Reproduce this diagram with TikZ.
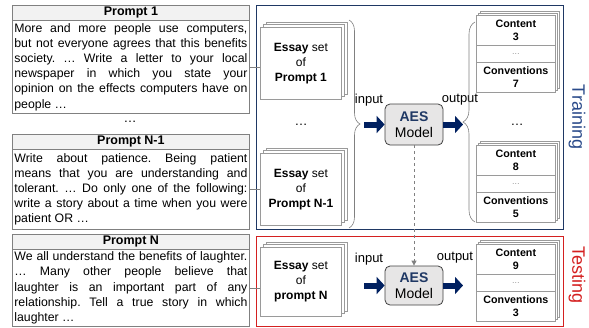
\documentclass[tikz,border=0pt]{standalone}
\usepackage{fontspec}
\setmainfont{Liberation Sans}
\usetikzlibrary{arrows.meta,decorations.pathreplacing,calc}
\definecolor{navyc}{HTML}{002060}
\definecolor{trainc}{HTML}{1F3864}
\definecolor{traintxt}{HTML}{2A4A8A}
\definecolor{testc}{HTML}{D42020}
\definecolor{boxgray}{HTML}{808080}
\definecolor{headfill}{HTML}{F2F2F2}
\definecolor{aesfill}{HTML}{E7E6E6}
\definecolor{aestxt}{HTML}{1F3864}
\definecolor{sheetgray}{HTML}{9A9A9A}
\hbadness=10000
\frenchspacing
\begin{document}
\begin{tikzpicture}[x=1pt,y=-1pt,
  phead/.style={draw=boxgray,fill=headfill,line width=0.8pt,anchor=north west,minimum width=237pt,minimum height=15pt,inner sep=0pt,font=\fontsize{12.5}{14}\selectfont\bfseries},
  pbody/.style={draw=boxgray,line width=0.8pt,anchor=north west,text width=233pt,inner xsep=2pt,inner ysep=2pt,align=justify,font=\fontsize{12.3}{15.2}\selectfont\frenchspacing},
  sheet/.style={draw=sheetgray,fill=white,line width=0.7pt},
  essay/.style={sheet,anchor=north west,minimum width=81pt,inner sep=0pt,align=center,font=\fontsize{12}{15}\selectfont},
  cell/.style={sheet,anchor=north west,minimum width=79pt,inner sep=0pt,align=center,font=\fontsize{10.7}{12.5}\selectfont\bfseries},
  dcell/.style={cell,minimum height=17pt,font=\fontsize{8}{9}\selectfont,text=gray},
  aes/.style={draw=black!75,fill=aesfill,line width=0.8pt,rounded corners=5pt,minimum width=58pt,inner sep=0pt,align=center,font=\fontsize{14}{16.5}\selectfont},
  bigarrow/.style={navyc,line width=6pt,-{Triangle[width=17pt,length=8pt]}},
  conn/.style={draw=boxgray,line width=0.6pt},
  bracec/.style={draw=gray,line width=0.6pt,decorate},
  lbl/.style={font=\fontsize{13}{15}\selectfont},
  dots/.style={font=\fontsize{13}{15}\selectfont}
]
\useasboundingbox (0,0) rectangle (589,327);

% frames
\node[draw=trainc,line width=1pt,anchor=north west,minimum width=307pt,minimum height=224pt,inner sep=0pt] (train) at (256,5) {};
\node[draw=testc,line width=1pt,anchor=north west,minimum width=307pt,minimum height=90pt,inner sep=0pt] (test) at (256,236) {};
\node[rotate=-90,text=traintxt,font=\fontsize{18}{20}\selectfont] (trainlbl) at (577,117) {Training};
\node[rotate=-90,text=testc,font=\fontsize{18}{20}\selectfont] (testlbl) at (577,275) {Testing};

% prompt boxes
\node[phead] (p1h) at (12,5) {Prompt 1};
\node[pbody,minimum height=93pt] (p1b) at (12,20) {More and more people use computers,\linebreak but not everyone agrees that this benefits\linebreak society. … Write a letter to your local\linebreak newspaper in which you state your\linebreak opinion on the effects computers have on\linebreak people …};
\node[dots] (pdots) at (130,122) {…};
\node[phead] (p2h) at (12,134) {Prompt N-1};
\node[pbody,minimum height=80pt] (p2b) at (12,149) {Write about patience. Being patient\linebreak means that you are understanding and\linebreak tolerant. … Do only one of the following:\linebreak write a story about a time when you were\linebreak patient OR …};
\node[phead] (p3h) at (12,234) {Prompt N};
\node[pbody,minimum height=77pt] (p3b) at (12,249) {We all understand the benefits of laughter.\linebreak … Many other people believe that\linebreak laughter is an important part of any\linebreak relationship. Tell a true story in which\linebreak laughter …};

% essay stacks
\draw[sheet] (266.6,22) rectangle +(81,72);
\draw[sheet] (263.3,24.5) rectangle +(81,72);
\node[essay,minimum height=72pt] (e1) at (260,27) {{\bfseries Essay} set\\of\\{\bfseries Prompt 1}};
\node[dots] (edots) at (301,125) {…};
\draw[sheet] (266.6,148) rectangle +(81,72);
\draw[sheet] (263.3,150.5) rectangle +(81,72);
\node[essay,minimum height=72pt] (e2) at (260,153) {{\bfseries Essay} set\\of\\{\bfseries Prompt N-1}};
\draw[sheet] (266.6,242) rectangle +(81,69);
\draw[sheet] (263.3,244.5) rectangle +(81,69);
\node[essay,minimum height=69pt] (e3) at (260,247) {{\bfseries Essay} set\\of\\{\bfseries prompt N}};

% prompt -> essay connectors
\draw[conn] (p1b.east) -- (e1.west |- p1b.east);
\draw[conn] (p2b.east) -- (e2.west |- p2b.east);
\draw[conn] (p3b.east) -- (e3.west |- p3b.east);

% input brace
\draw[bracec,decoration={brace,amplitude=11pt}] (349,20) -- (349,228);

% AES models
\node[aes,minimum height=41pt] (m1) at (414,124.5) {\textcolor{aestxt}{\bfseries AES}\\Model};
\node[aes,minimum height=39pt] (m2) at (414,285.5) {\textcolor{aestxt}{\bfseries AES}\\Model};
\draw[gray,dashed,line width=0.8pt,-{Triangle[width=5pt,length=5pt]}] (m1.south) -- (m2.north);

\coordinate (in1) at (364,124.5);
\coordinate (out1) at (463,124.5);
\coordinate (in2) at (364,285.5);
\coordinate (out2) at (463,285.5);
\draw[bigarrow] (in1) -- (m1.west);
\draw[bigarrow] (m1.east) -- (out1);
\draw[bigarrow] (in2) -- (m2.west);
\draw[bigarrow] (m2.east) -- (out2);
\node[lbl] (inl1) at (369,100) {input};
\node[lbl] (outl1) at (460,100) {output};
\node[lbl] (inl2) at (369,259) {input};
\node[lbl] (outl2) at (455,258) {output};

% output brace
\draw[bracec,decoration={brace,amplitude=12pt}] (475,222) -- (475,22);

% score stacks
\draw[sheet] (480.4,11.6) rectangle +(79,77);
\draw[sheet] (478.2,13.3) rectangle +(79,77);
\node[cell,minimum height=30pt] (s1a) at (476,15) {Content\\3};
\node[dcell] (s1b) at (476,45) {…};
\node[cell,minimum height=30pt] (s1c) at (476,62) {Conventions\\7};
\node[dots] (sdots) at (517,125) {…};
\draw[sheet] (480.4,141.6) rectangle +(79,77);
\draw[sheet] (478.2,143.3) rectangle +(79,77);
\node[cell,minimum height=30pt] (s2a) at (476,145) {Content\\8};
\node[dcell] (s2b) at (476,175) {…};
\node[cell,minimum height=30pt] (s2c) at (476,192) {Conventions\\5};
\draw[sheet] (480.4,240.6) rectangle +(79,77);
\draw[sheet] (478.2,242.3) rectangle +(79,77);
\node[cell,minimum height=30pt] (s3a) at (476,244) {Content\\9};
\node[dcell] (s3b) at (476,274) {…};
\node[cell,minimum height=30pt] (s3c) at (476,291) {Conventions\\3};
\end{tikzpicture}
\end{document}
